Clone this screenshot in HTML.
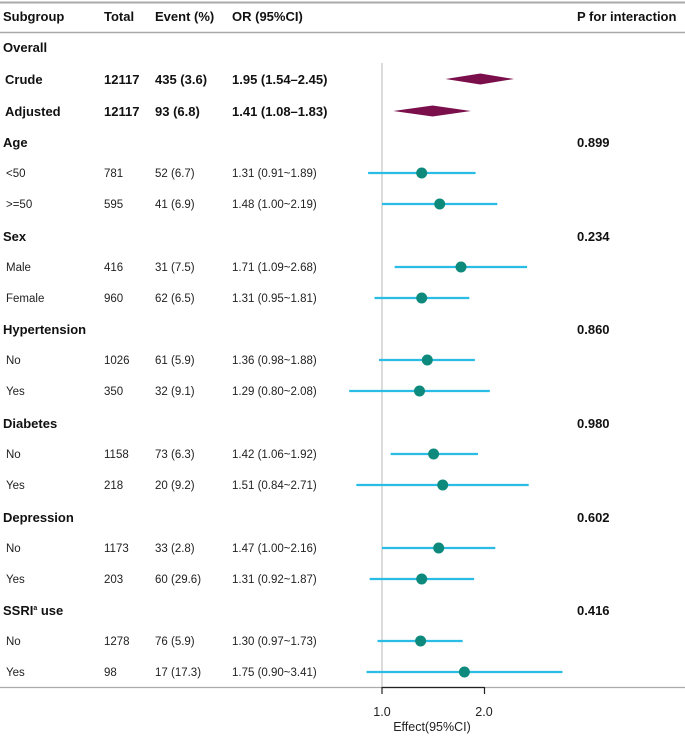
<!DOCTYPE html>
<html><head><meta charset="utf-8"><style>
html,body{margin:0;padding:0;background:#fff;}
svg{display:block;font-family:"Liberation Sans",Arial,sans-serif;}
.h{font-size:13px;font-weight:bold;fill:#111;}
.s{font-size:11.5px;fill:#222;}
.ln{stroke:#29bde6;stroke-width:2.2;}
.pt{fill:#0d8a7c;}
</style></head><body>
<svg width="685" height="736" viewBox="0 0 685 736">
<line x1="0" y1="2.5" x2="685" y2="2.5" stroke="#aaa" stroke-width="2"/>
<line x1="0" y1="32.5" x2="685" y2="32.5" stroke="#aaa" stroke-width="1.5"/>
<g class="h">
<text x="3" y="21">Subgroup</text><text x="104" y="21">Total</text><text x="155" y="21">Event (%)</text><text x="232" y="21">OR (95%CI)</text><text x="577" y="21">P for interaction</text>
<text x="3" y="52">Overall</text>
<text x="5" y="84">Crude</text><text x="104" y="84">12117</text><text x="155" y="84">435 (3.6)</text><text x="232" y="84">1.95 (1.54–2.45)</text>
<text x="5" y="116">Adjusted</text><text x="104" y="116">12117</text><text x="155" y="116">93 (6.8)</text><text x="232" y="116">1.41 (1.08–1.83)</text>
<text x="3" y="147">Age</text><text x="577" y="147">0.899</text>
<text x="3" y="241">Sex</text><text x="577" y="241">0.234</text>
<text x="3" y="334">Hypertension</text><text x="577" y="334">0.860</text>
<text x="3" y="428">Diabetes</text><text x="577" y="428">0.980</text>
<text x="3" y="522">Depression</text><text x="577" y="522">0.602</text>
<text x="3" y="615">SSRI<tspan font-size="7" dy="-5">a</tspan><tspan dy="5"> use</tspan></text><text x="577" y="615">0.416</text>
</g>
<g class="s">
<text x="6" y="177">&lt;50</text><text x="104" y="177">781</text><text x="155" y="177">52 (6.7)</text><text x="232" y="177">1.31 (0.91~1.89)</text>
<text x="6" y="208">&gt;=50</text><text x="104" y="208">595</text><text x="155" y="208">41 (6.9)</text><text x="232" y="208">1.48 (1.00~2.19)</text>
<text x="6" y="271">Male</text><text x="104" y="271">416</text><text x="155" y="271">31 (7.5)</text><text x="232" y="271">1.71 (1.09~2.68)</text>
<text x="6" y="302">Female</text><text x="104" y="302">960</text><text x="155" y="302">62 (6.5)</text><text x="232" y="302">1.31 (0.95~1.81)</text>
<text x="6" y="364">No</text><text x="104" y="364">1026</text><text x="155" y="364">61 (5.9)</text><text x="232" y="364">1.36 (0.98~1.88)</text>
<text x="6" y="395">Yes</text><text x="104" y="395">350</text><text x="155" y="395">32 (9.1)</text><text x="232" y="395">1.29 (0.80~2.08)</text>
<text x="6" y="458">No</text><text x="104" y="458">1158</text><text x="155" y="458">73 (6.3)</text><text x="232" y="458">1.42 (1.06~1.92)</text>
<text x="6" y="489">Yes</text><text x="104" y="489">218</text><text x="155" y="489">20 (9.2)</text><text x="232" y="489">1.51 (0.84~2.71)</text>
<text x="6" y="552">No</text><text x="104" y="552">1173</text><text x="155" y="552">33 (2.8)</text><text x="232" y="552">1.47 (1.00~2.16)</text>
<text x="6" y="583">Yes</text><text x="104" y="583">203</text><text x="155" y="583">60 (29.6)</text><text x="232" y="583">1.31 (0.92~1.87)</text>
<text x="6" y="645">No</text><text x="104" y="645">1278</text><text x="155" y="645">76 (5.9)</text><text x="232" y="645">1.30 (0.97~1.73)</text>
<text x="6" y="676">Yes</text><text x="104" y="676">98</text><text x="155" y="676">17 (17.3)</text><text x="232" y="676">1.75 (0.90~3.41)</text>
</g>
<line x1="382" y1="63" x2="382" y2="687" stroke="#c8c8c8" stroke-width="1.3"/>
<polygon points="445.5,79 480.3,73.5 513.9,79 480.3,84.5" fill="#7a0f4c"/>
<polygon points="393.3,111 432.6,105.5 470.9,111 432.6,116.5" fill="#7a0f4c"/>
<g class="ln">
<line x1="368.1" y1="173" x2="475.6" y2="173"/>
<line x1="382" y1="204" x2="497.3" y2="204"/>
<line x1="394.7" y1="267" x2="527.1" y2="267"/>
<line x1="374.5" y1="298" x2="469.3" y2="298"/>
<line x1="379" y1="360" x2="474.9" y2="360"/>
<line x1="349.2" y1="391" x2="489.8" y2="391"/>
<line x1="390.6" y1="454" x2="478" y2="454"/>
<line x1="356.3" y1="485" x2="528.7" y2="485"/>
<line x1="382" y1="548" x2="495.3" y2="548"/>
<line x1="369.7" y1="579" x2="474.1" y2="579"/>
<line x1="377.5" y1="641" x2="462.7" y2="641"/>
<line x1="366.5" y1="672" x2="562.5" y2="672"/>
</g>
<g class="pt">
<circle cx="421.7" cy="173" r="5.5"/><circle cx="439.7" cy="204" r="5.5"/>
<circle cx="461" cy="267" r="5.5"/><circle cx="421.7" cy="298" r="5.5"/>
<circle cx="427.3" cy="360" r="5.5"/><circle cx="419.5" cy="391" r="5.5"/>
<circle cx="433.6" cy="454" r="5.5"/><circle cx="442.7" cy="485" r="5.5"/>
<circle cx="438.7" cy="548" r="5.5"/><circle cx="421.7" cy="579" r="5.5"/>
<circle cx="420.6" cy="641" r="5.5"/><circle cx="464.4" cy="672" r="5.5"/>
</g>
<line x1="0" y1="687.5" x2="685" y2="687.5" stroke="#aaa" stroke-width="1.3"/>
<path d="M382,687 V694 M382,687.5 H484.5 M484.5,687 V694" stroke="#222" stroke-width="1.2" fill="none"/>
<text x="382" y="716" font-size="12.5" text-anchor="middle" fill="#222">1.0</text>
<text x="484" y="716" font-size="12.5" text-anchor="middle" fill="#222">2.0</text>
<text x="432" y="731" font-size="12.5" text-anchor="middle" fill="#222">Effect(95%CI)</text>
</svg>
</body></html>
